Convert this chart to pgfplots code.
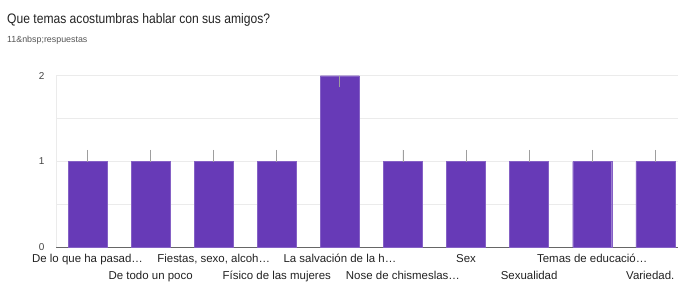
\documentclass[border=0pt]{standalone}
\usepackage{pgfplots}
\pgfplotsset{compat=1.18}
\usepackage{fontspec}
\setmainfont{Liberation Sans}
\newfontfamily\titlefont[FakeStretch=0.88]{Liberation Sans}
\definecolor{barpurple}{HTML}{673AB7}
\definecolor{gridc}{HTML}{EBEBEB}
\definecolor{basec}{HTML}{666666}
\definecolor{tickc}{HTML}{444444}
\definecolor{labc}{HTML}{222222}
\definecolor{subc}{HTML}{555555}
\definecolor{stemc}{HTML}{9E9E9E}
\newcommand\low[1]{\smash{\raisebox{-17bp}{#1}}}
\begin{document}
\begin{tikzpicture}[x=1bp,y=1bp]
\useasboundingbox (0,0) rectangle (678,283);
\clip (0,0) rectangle (678,283);
\node[anchor=base west,inner sep=0pt,font=\titlefont\fontsize{13.8}{16}\selectfont,text=labc] at (7,260) {Que temas acostumbras hablar con sus amigos?};
\node[anchor=base west,inner sep=0pt,font=\fontsize{8.9}{11}\selectfont,text=subc] at (7,241) {11\&nbsp;respuestas};
\begin{axis}[
  at={(56bp,35.7bp)}, anchor=south west,
  scale only axis, width=622bp, height=171.6bp,
  xmin=-0.5, xmax=9.36, ymin=0, ymax=2,
  axis lines*=left,
  x axis line style={color=basec, line width=1.1pt},
  y axis line style={color=gridc, line width=0.8pt},
  ytick={0,1,2}, minor y tick num=1,
  ymajorgrids, yminorgrids,
  major grid style={color=gridc, line width=0.8pt},
  minor grid style={color=gridc, line width=0.8pt},
  major tick length=0pt, minor tick length=0pt,
  /pgf/number format/assume math mode=true,
  xtick={0,...,9},
  xticklabels={De lo que ha pasad…, \low{De todo un poco}, {Fiestas, sexo, alcoh…}, \low{Físico de las mujeres}, La salvación de la h…, \low{Nose de chismeslas…}, Sex, \low{Sexualidad}, Temas de educació…, \low{\hspace*{-10bp}Variedad.}},
  xticklabel style={font=\fontsize{11.5}{13}\selectfont, text=labc, text height=8.3bp, text depth=2bp, anchor=north, inner sep=0pt},
  xticklabel shift=7bp,
  yticklabel style={font=\fontsize{10}{12}\selectfont, text=tickc},
  yticklabel shift=8bp,
  clip=false,
]
\addplot[ybar, bar width=39bp, fill=barpurple, draw=barpurple!80!white, line width=0.4pt,
  error bars/.cd, y dir=both, y explicit, error mark=none,
  error bar style={color=stemc, line width=0.9pt}]
  table[x=x, y=y, y error plus=ep, y error minus=em] {
x y ep em
0 1 0.135 0
1 1 0.135 0
2 1 0.135 0
3 1 0.135 0
4 2 0 0.135
5 1 0.135 0
6 1 0.135 0
7 1 0.135 0
8 1 0.135 0
9 1 0.135 0
};
\end{axis}
\end{tikzpicture}
\end{document}
